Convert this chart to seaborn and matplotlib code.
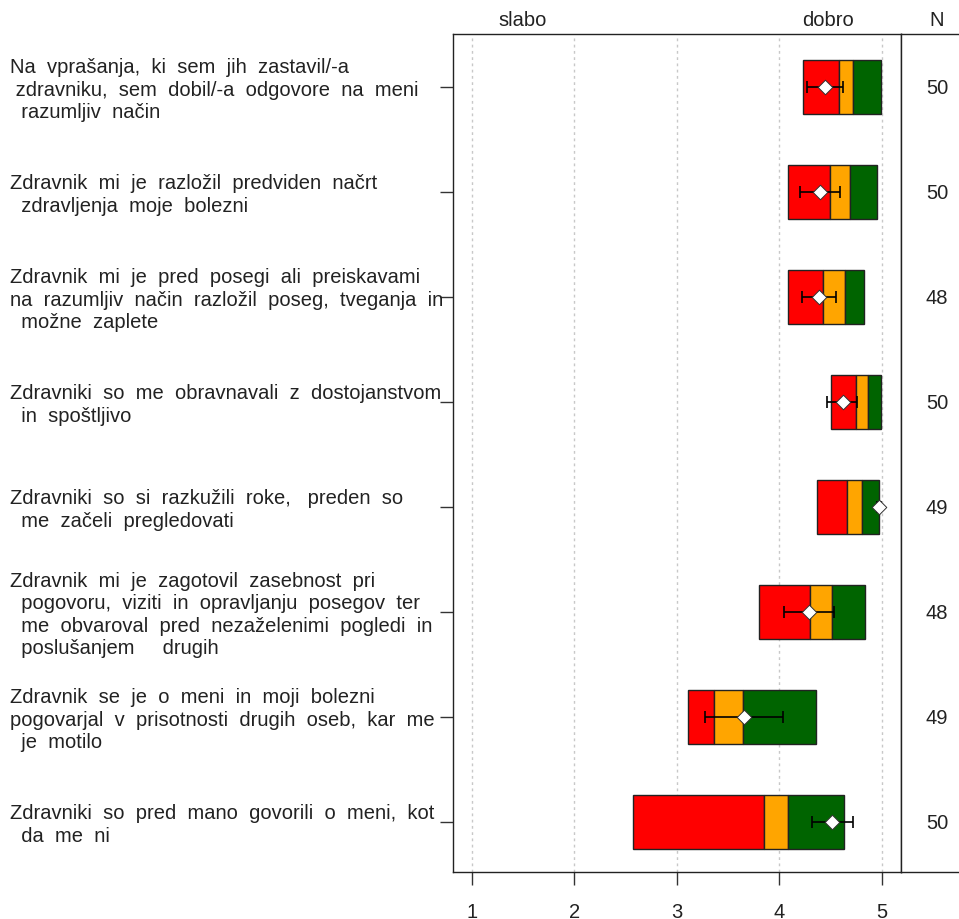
import numpy as np
import pandas as pd
import matplotlib
matplotlib.use("Agg")
import matplotlib.pyplot as plt
import matplotlib.transforms as mtransforms
import seaborn as sns

# Survey statements (top to bottom)
questions = [
    "Na  vprašanja,  ki  sem  jih  zastavil/-a\n zdravniku,  sem  dobil/-a  odgovore  na  meni\n  razumljiv  način",
    "Zdravnik  mi  je  razložil  predviden  načrt\n  zdravljenja  moje  bolezni",
    "Zdravnik  mi  je  pred  posegi  ali  preiskavami\nna  razumljiv  način  razložil  poseg,  tveganja  in\n  možne  zaplete",
    "Zdravniki  so  me  obravnavali  z  dostojanstvom\n  in  spoštljivo",
    "Zdravniki  so  si  razkužili  roke,   preden  so\n  me  začeli  pregledovati",
    "Zdravnik  mi  je  zagotovil  zasebnost  pri\n  pogovoru,  viziti  in  opravljanju  posegov  ter\n  me  obvaroval  pred  nezaželenimi  pogledi  in\n  poslušanjem     drugih",
    "Zdravnik  se  je  o  meni  in  moji  bolezni\npogovarjal  v  prisotnosti  drugih  oseb,  kar  me\n  je  motilo",
    "Zdravniki  so  pred  mano  govorili  o  meni,  kot\n  da  me  ni",
]

# Band limits on the 1-5 scale
red_start    = [4.235, 4.089, 4.089, 4.505, 4.366, 3.806, 3.107, 2.574]
red_end      = [4.583, 4.496, 4.430, 4.749, 4.662, 4.304, 3.367, 3.849]
orange_end   = [4.723, 4.694, 4.645, 4.863, 4.811, 4.515, 3.644, 4.086]
green_end    = [4.990, 4.951, 4.827, 4.990, 4.974, 4.837, 4.356, 4.635]

# Mean score with its interval
mean_score = [4.447, 4.398, 4.388, 4.620, 4.977, 4.291, 3.654, 4.518]
ci_low     = [4.268, 4.203, 4.226, 4.466, 4.957, 4.050, 3.276, 4.317]
ci_high    = [4.620, 4.593, 4.557, 4.759, 4.995, 4.535, 4.037, 4.723]

n_resp = [50, 50, 48, 50, 49, 48, 49, 50]

x_ticks = [1, 2, 3, 4, 5]

sns.set_theme(style="white")
plt.rcParams["font.family"] = ["Liberation Sans", "DejaVu Sans"]

FS = 14.5
INK = "#222222"

W, H = 959, 920
fig = plt.figure(figsize=(W / 100, H / 100), dpi=100)

left_px, right_px, top_px, bottom_px = 453.3, 901.3, 35, 873
ax = fig.add_axes([left_px / W, 1 - bottom_px / H,
                   (right_px - left_px) / W, (bottom_px - top_px) / H])
axn = fig.add_axes([right_px / W, 1 - bottom_px / H,
                    (W + 5 - right_px) / W, (bottom_px - top_px) / H])

df = pd.DataFrame({
    "row": np.arange(1, len(questions) + 1),
    "red_start": red_start, "red_end": red_end,
    "orange_end": orange_end, "green_end": green_end,
    "mean": mean_score, "lo": ci_low, "hi": ci_high, "n": n_resp,
})

for xv in x_ticks:
    ax.axvline(xv, color="#c8c8c8", lw=1.0, ls=(0, (2, 2.5)), zorder=0)

bar_h = 0.51
edge = dict(edgecolor=INK, linewidth=1.0)
ax.barh(df["row"], df["red_end"] - df["red_start"], left=df["red_start"],
        height=bar_h, color="#ff0000", zorder=2, **edge)
ax.barh(df["row"], df["orange_end"] - df["red_end"], left=df["red_end"],
        height=bar_h, color="#ffa500", zorder=2, **edge)
ax.barh(df["row"], df["green_end"] - df["orange_end"], left=df["orange_end"],
        height=bar_h, color="#006400", zorder=2, **edge)

ax.errorbar(df["mean"], df["row"], xerr=[df["mean"] - df["lo"], df["hi"] - df["mean"]],
            fmt="none", ecolor="black", elinewidth=1.2, capsize=4, capthick=1.2, zorder=3)
sns.scatterplot(data=df, x="mean", y="row", marker="D", s=55, color="white",
                edgecolor="#333333", linewidth=0.7, ax=ax, zorder=4, legend=False)

ax.set_xlim(0.82, 5.19)
ax.set_ylim(8.476, 0.495)
ax.set_xticks(x_ticks)
ax.set_xticklabels([str(v) for v in x_ticks], fontsize=FS, color=INK)
ax.set_yticks(df["row"])
ax.set_yticklabels([])
ax.set_xlabel("")
ax.set_ylabel("")
ax.tick_params(axis="x", length=9.5, width=1.0, color="#333333", pad=12, bottom=True)
ax.tick_params(axis="y", length=9.5, width=1.0, color="#333333", left=True)
for sp in ax.spines.values():
    sp.set_color(INK)
    sp.set_linewidth(1.0)

axn.set_xlim(0, 1)
axn.set_ylim(8.476, 0.495)
axn.set_xticks([])
axn.set_yticks([])
axn.spines["right"].set_visible(False)
for sp in ["top", "bottom", "left"]:
    axn.spines[sp].set_color(INK)
    axn.spines[sp].set_linewidth(1.0)
nx = (937 - right_px) / (W + 5 - right_px)
for r, n in zip(df["row"], df["n"]):
    axn.text(nx, r, str(n), ha="center", va="center", fontsize=FS, color=INK)

# Column headers
fig.text(523 / W, 1 - 20 / H, "slabo", ha="center", va="center", fontsize=FS, color=INK)
fig.text(828 / W, 1 - 20 / H, "dobro", ha="center", va="center", fontsize=FS, color=INK)
fig.text(937 / W, 1 - 20 / H, "N", ha="center", va="center", fontsize=FS, color=INK)

# Statement labels at the left margin
trans = mtransforms.blended_transform_factory(fig.transFigure, ax.transData)
for r, q in zip(df["row"], questions):
    ax.text(10 / W, r + 0.02, q, transform=trans, ha="left", va="center",
            multialignment="left", fontsize=FS, color=INK, linespacing=1.22,
            clip_on=False)

fig.savefig("out.png", dpi=100, facecolor="white")
